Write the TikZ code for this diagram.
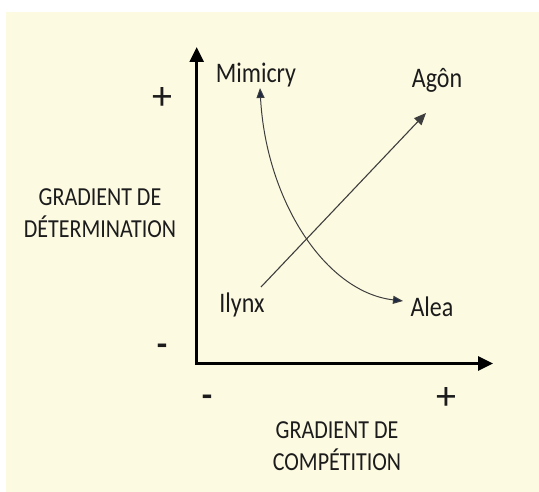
\documentclass[tikz,border=0pt]{standalone}
\usepackage{fontspec}
\setmainfont{Carlito}
\usetikzlibrary{arrows.meta}
\definecolor{cream}{HTML}{FDFAE2}
\definecolor{ink}{HTML}{1C1C1C}
\definecolor{navy}{HTML}{1E2A44}
\newcommand{\vstretch}[1]{\scalebox{1}[1.18]{#1}}
\begin{document}
\begin{tikzpicture}[x=1pt,y=-1pt,
  lbl/.style={inner sep=0pt,text=ink,font=\fontsize{24}{26}\selectfont},
  axlbl/.style={inner sep=0pt,text=ink,font=\fontsize{22}{24}\selectfont},
  plussgn/.style={inner sep=0pt,text=ink,font=\fontsize{40}{42}\selectfont},
  minussgn/.style={inner sep=0pt,text=ink,font=\fontsize{34}{36}\selectfont\bfseries},
  axis/.style={line width=2.8pt,draw=black,line join=miter,{Triangle[width=14pt,length=15pt]}-{Triangle[width=14pt,length=15pt]}},
  straightarr/.style={line width=1.1pt,draw=ink!85,-{Triangle[width=10pt,length=12pt]}},
  curvearr/.style={line width=1pt,draw=ink!85,{Triangle[width=8pt,length=10pt,fill=navy]}-{Triangle[width=8pt,length=10pt,fill=navy]}}]
\fill[white] (0,0) rectangle (539,492);
\fill[cream] (6,12) rectangle (539,492);
\useasboundingbox (0,0) rectangle (539,492);
% axes
\coordinate (ytip) at (196.7,47);
\coordinate (origin) at (196.7,363.5);
\coordinate (xtip) at (493,363.5);
\draw[axis] (ytip) -- (origin) -- (xtip);
% labels
\node[plussgn] (yplus) at (162,99) {+};
\node[minussgn] (yminus) at (162,350) {-};
\node[minussgn] (xminus) at (207,401) {-};
\node[plussgn] (xplus) at (446,399) {+};
\node[axlbl] (ylab1) at (100,197) {\vstretch{GRADIENT DE}};
\node[axlbl] (ylab2) at (100,227) {\vstretch{DÉTERMINATION}};
\node[axlbl] (xlab1) at (337,430) {\vstretch{GRADIENT DE}};
\node[axlbl] (xlab2) at (337,460) {\vstretch{COMPÉTITION}};
% points
\node[lbl] (mimicry) at (256,75) {\vstretch{Mimicry}};
\node[lbl] (agon) at (437,80) {\vstretch{Agôn}};
\node[lbl] (ilynx) at (242,305) {\vstretch{Ilynx}};
\node[lbl] (alea) at (432,307) {\vstretch{Alea}};
% connectors
\coordinate (ilynxend) at (261,287);
\coordinate (agonend) at (426,113);
\coordinate (mimend) at (260,88);
\coordinate (aleaend) at (403,301);
\draw[straightarr] (ilynxend) -- (agonend);
\draw[curvearr] (mimend) .. controls (266,200) and (325,292) .. (aleaend);
\end{tikzpicture}
\end{document}
